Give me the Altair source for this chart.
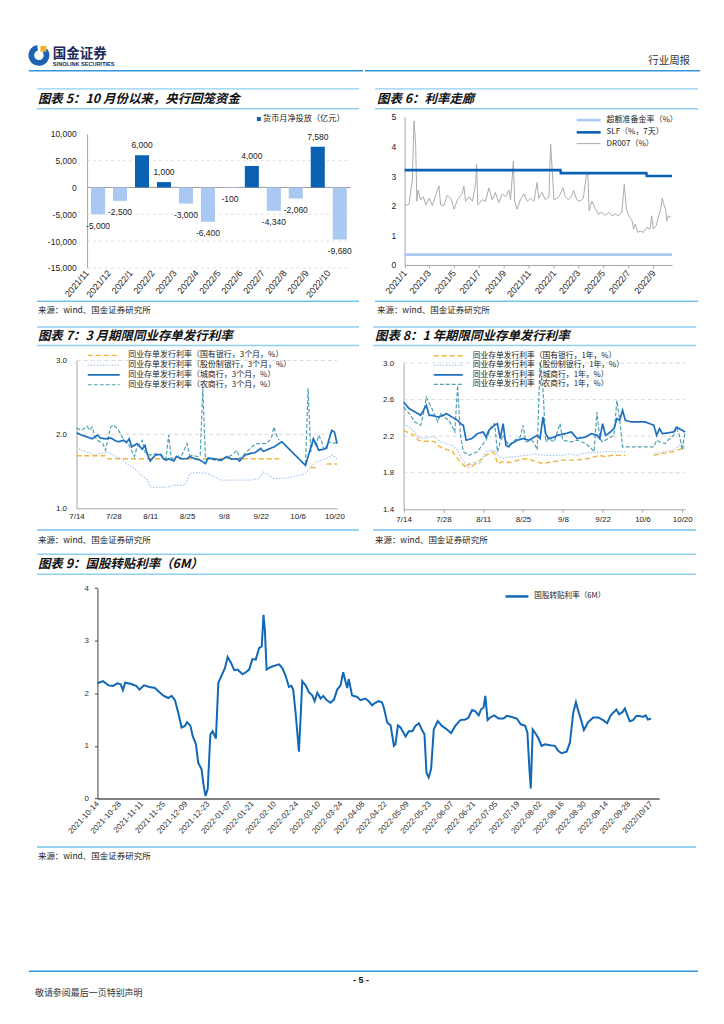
import altair as alt
import pandas as pd

LAT = "Liberation Sans, Noto Sans CJK SC"
CJK = "Noto Sans CJK SC, Liberation Sans"
TXT = "#222222"
HEAD_BLUE = "#3196db"
TITLE_BLUE = "#8fd0f4"
SRC_BLUE = "#74c3ee"
GRID = "#d9d9d9"
AXIS = "#a6a6a6"

# ---------------- texts ----------------
brand_cn = "国金证券"
brand_en = "SINOLINK SECURITIES"
report_type = "行业周报"
title5 = "图表 5：10 月份以来，央行回笼资金"
title6 = "图表 6：利率走廊"
title7 = "图表 7：3 月期限同业存单发行利率"
title8 = "图表 8：1 年期限同业存单发行利率"
title9 = "图表 9：国股转贴利率（6M）"
source_txt = "来源：wind、国金证券研究所"
page_no = "- 5 -"
disclaimer = "敬请参阅最后一页特别声明"

# ---------------- chart 5 data ----------------
c5_months = ["2021/11", "2021/12", "2022/1", "2022/2", "2022/3", "2022/4",
             "2022/5", "2022/6", "2022/7", "2022/8", "2022/9", "2022/10"]
c5_values = [-5000, -2500, 6000, 1000, -3000, -6400, -100, 4000, -4340, -2060, 7580, -9680]
c5_yticks = [10000, 5000, 0, -5000, -10000, -15000]
c5_grid = [5000, -5000, -10000, -15000]
c5_legend = "货币月净投放（亿元）"

# ---------------- chart 6 data ----------------
c6_names = ["超额准备金率（%）", "SLF（%，7天）", "DR007（%）"]
c6_excess = [("2021-01-01", 0.35), ("2022-10-17", 0.35)]
c6_slf = [("2021-01-01", 3.2), ("2022-01-17", 3.2), ("2022-01-18", 3.1),
          ("2022-08-15", 3.1), ("2022-08-16", 3.0), ("2022-10-17", 3.0)]
c6_dr007 = [
    ("2021-01-01", 2.00), ("2021-01-12", 2.05), ("2021-01-16", 2.50), ("2021-01-20", 2.84),
    ("2021-01-24", 4.86), ("2021-01-28", 4.08), ("2021-01-31", 2.15), ("2021-02-03", 2.52),
    ("2021-02-09", 2.20), ("2021-02-16", 2.30), ("2021-02-22", 2.03), ("2021-03-02", 2.25),
    ("2021-03-10", 2.00), ("2021-03-18", 2.35), ("2021-03-26", 2.67), ("2021-03-30", 2.03),
    ("2021-04-07", 2.00), ("2021-04-15", 2.35), ("2021-04-24", 2.25), ("2021-05-02", 1.88),
    ("2021-05-10", 2.20), ("2021-05-22", 2.40), ("2021-05-26", 2.67), ("2021-05-30", 2.15),
    ("2021-06-07", 2.30), ("2021-06-16", 2.15), ("2021-06-24", 2.78), ("2021-06-26", 3.40),
    ("2021-06-29", 2.03), ("2021-07-10", 2.20), ("2021-07-18", 2.15), ("2021-07-26", 2.60),
    ("2021-08-03", 2.20), ("2021-08-11", 2.45), ("2021-08-19", 2.10), ("2021-08-28", 2.40),
    ("2021-09-05", 2.30), ("2021-09-13", 2.52), ("2021-09-17", 2.20), ("2021-09-24", 3.51),
    ("2021-09-27", 2.15), ("2021-10-03", 1.88), ("2021-10-11", 2.20), ("2021-10-20", 2.40),
    ("2021-10-28", 2.15), ("2021-11-05", 2.25), ("2021-11-13", 2.15), ("2021-11-21", 2.78),
    ("2021-11-25", 2.25), ("2021-12-03", 2.45), ("2021-12-11", 2.20), ("2021-12-20", 2.30),
    ("2021-12-24", 4.08), ("2021-12-28", 3.18), ("2022-01-01", 2.20), ("2022-01-09", 2.25),
    ("2022-01-17", 2.40), ("2022-01-23", 2.60), ("2022-01-29", 2.30), ("2022-02-06", 2.20),
    ("2022-02-14", 2.35), ("2022-02-18", 2.52), ("2022-02-26", 2.20), ("2022-03-06", 2.15),
    ("2022-03-14", 2.25), ("2022-03-21", 3.00), ("2022-03-25", 3.10), ("2022-03-28", 1.83),
    ("2022-04-04", 2.15), ("2022-04-12", 1.90), ("2022-04-20", 1.72), ("2022-04-28", 1.78),
    ("2022-05-07", 1.66), ("2022-05-15", 1.78), ("2022-05-23", 1.66), ("2022-05-31", 1.72),
    ("2022-06-08", 1.66), ("2022-06-16", 1.78), ("2022-06-22", 2.72), ("2022-06-27", 1.90),
    ("2022-07-03", 1.66), ("2022-07-11", 1.49), ("2022-07-15", 1.21), ("2022-07-19", 1.38),
    ("2022-07-25", 1.10), ("2022-07-31", 1.15), ("2022-08-08", 1.10), ("2022-08-16", 1.27),
    ("2022-08-24", 1.21), ("2022-08-28", 1.66), ("2022-09-01", 1.21), ("2022-09-08", 1.32),
    ("2022-09-13", 1.60), ("2022-09-19", 1.88), ("2022-09-23", 2.25), ("2022-09-27", 2.03),
    ("2022-10-01", 1.88), ("2022-10-04", 1.49), ("2022-10-08", 1.66), ("2022-10-14", 1.60)]
c6_xticks = ["2021-01-01", "2021-03-01", "2021-05-01", "2021-07-01", "2021-09-01", "2021-11-01",
             "2022-01-01", "2022-03-01", "2022-05-01", "2022-07-01", "2022-09-01"]
c6_yticks = [0, 1, 2, 3, 4, 5]

# ---------------- chart 7 data (3M) ----------------
c7_names = ["同业存单发行利率（国有银行，3个月，%）", "同业存单发行利率（股份制银行，3个月，%）",
            "同业存单发行利率（城商行，3个月，%）", "同业存单发行利率（农商行，3个月，%）"]
c7_state = [("07-14", 1.71), ("07-25", 1.71), ("07-26", 1.67), ("09-29", 1.67),
            ("10-11", 1.55), ("10-13", 1.55), ("10-17", 1.60), ("10-21", 1.60)]
c7_state_breaks = ["10-11", "10-17"]
c7_joint = [("07-14", 1.83), ("07-16", 1.785), ("07-18", 1.76), ("07-21", 1.72), ("07-23", 1.74),
            ("07-26", 1.76), ("07-28", 1.72), ("07-31", 1.67), ("08-02", 1.605), ("08-05", 1.54),
            ("08-07", 1.47), ("08-10", 1.38), ("08-11", 1.29), ("08-14", 1.28), ("08-18", 1.29),
            ("08-20", 1.31), ("08-24", 1.31), ("08-25", 1.38), ("08-26", 1.47), ("08-29", 1.485),
            ("09-02", 1.47), ("09-04", 1.43), ("09-07", 1.38), ("09-11", 1.38), ("09-14", 1.38),
            ("09-18", 1.38), ("09-21", 1.40), ("09-23", 1.49), ("09-25", 1.45), ("09-27", 1.40),
            ("10-02", 1.41), ("10-07", 1.45), ("10-09", 1.47), ("10-11", 1.56), ("10-13", 1.63),
            ("10-15", 1.65), ("10-17", 1.67), ("10-19", 1.72), ("10-20", 1.70), ("10-21", 1.67)]
c7_city = [("07-14", 2.02), ("07-16", 1.99), ("07-18", 1.965), ("07-20", 1.94), ("07-22", 1.99),
           ("07-23", 1.95), ("07-25", 1.94), ("07-27", 1.95), ("07-29", 1.91), ("07-30", 1.90),
           ("08-01", 1.92), ("08-02", 1.89), ("08-03", 1.94), ("08-04", 1.83), ("08-06", 1.875),
           ("08-08", 1.80), ("08-09", 1.85), ("08-10", 1.72), ("08-11", 1.64), ("08-13", 1.72),
           ("08-15", 1.73), ("08-16", 1.67), ("08-17", 1.65), ("08-18", 1.67), ("08-20", 1.64),
           ("08-21", 1.70), ("08-23", 1.67), ("08-25", 1.67), ("08-26", 1.70), ("08-28", 1.67),
           ("08-30", 1.65), ("09-01", 1.605), ("09-02", 1.68), ("09-05", 1.665), ("09-07", 1.65),
           ("09-09", 1.70), ("09-11", 1.665), ("09-13", 1.67), ("09-14", 1.64), ("09-16", 1.72),
           ("09-18", 1.74), ("09-20", 1.755), ("09-22", 1.81), ("09-23", 1.77), ("09-25", 1.80),
           ("09-27", 1.83), ("09-30", 1.90), ("10-09", 1.58), ("10-10", 1.70), ("10-12", 1.94),
           ("10-13", 1.875), ("10-14", 1.785), ("10-16", 1.80), ("10-17", 1.81), ("10-18", 1.94),
           ("10-19", 2.055), ("10-20", 2.03), ("10-21", 1.875)]
c7_rural = [("07-14", 2.085), ("07-16", 2.055), ("07-18", 2.11), ("07-19", 2.055), ("07-20", 2.10),
            ("07-21", 1.965), ("07-22", 1.92), ("07-24", 1.875), ("07-25", 1.785), ("07-27", 2.10),
            ("07-28", 2.13), ("07-30", 2.055), ("08-01", 1.92), ("08-03", 1.85), ("08-05", 1.70),
            ("08-06", 1.83), ("08-08", 1.92), ("08-09", 1.76), ("08-11", 1.72), ("08-13", 1.74),
            ("08-15", 1.72), ("08-17", 1.67), ("08-18", 1.99), ("08-19", 1.67), ("08-21", 1.70),
            ("08-23", 1.72), ("08-25", 1.875), ("08-26", 1.72), ("08-29", 1.70), ("08-30", 1.72),
            ("08-31", 2.62), ("09-01", 1.67), ("09-03", 1.665), ("09-06", 1.64), ("09-08", 1.67),
            ("09-11", 1.72), ("09-13", 1.785), ("09-14", 1.67), ("09-16", 1.74), ("09-18", 1.81),
            ("09-20", 1.875), ("09-22", 1.875), ("09-24", 1.875), ("09-26", 1.94), ("09-27", 2.10),
            ("09-28", 1.99), ("09-29", 1.92), ("10-09", 1.60), ("10-10", 2.62), ("10-11", 1.76),
            ("10-12", 1.94), ("10-13", 1.83), ("10-14", 1.99), ("10-15", 1.92), ("10-16", 1.785),
            ("10-18", 1.90), ("10-19", 1.875), ("10-21", 1.89)]
c7_rural_breaks = ["10-09"]
c7_xticks = ["2022-07-14", "2022-07-28", "2022-08-11", "2022-08-25",
             "2022-09-08", "2022-09-22", "2022-10-06", "2022-10-20"]
c7_yticks = [1.0, 2.0, 3.0]
c7_grid = [2.0, 3.0]

# ---------------- chart 8 data (1Y) ----------------
c8_names = ["同业存单发行利率（国有银行，1年，%）", "同业存单发行利率（股份制银行，1年，%）",
            "同业存单发行利率（城商行，1年，%）", "同业存单发行利率（农商行，1年，%）"]
c8_state = [("07-14", 2.265), ("07-16", 2.23), ("07-18", 2.21), ("07-19", 2.16), ("07-21", 2.145),
            ("07-23", 2.145), ("07-25", 2.14), ("07-26", 2.10), ("07-28", 2.065), ("07-30", 2.047),
            ("07-31", 2.047), ("08-01", 1.99), ("08-03", 1.92), ("08-05", 1.854), ("08-06", 1.90),
            ("08-07", 1.865), ("08-09", 1.92), ("08-10", 1.938), ("08-12", 1.99), ("08-13", 2.01),
            ("08-14", 2.03), ("08-15", 2.01), ("08-16", 1.90), ("08-18", 1.92), ("08-20", 1.912),
            ("08-22", 1.927), ("08-25", 1.95), ("08-27", 1.95), ("08-29", 1.927), ("09-01", 1.90),
            ("09-03", 1.912), ("09-06", 1.927), ("09-08", 1.938), ("09-10", 1.938), ("09-13", 1.938),
            ("09-15", 1.95), ("09-17", 1.956), ("09-19", 1.974), ("09-21", 1.99), ("09-23", 1.974),
            ("09-25", 1.99), ("09-27", 1.99), ("09-30", 1.99),
            ("10-10", 1.99), ("10-13", 2.01), ("10-15", 2.02), ("10-17", 2.03), ("10-20", 2.065),
            ("10-21", 2.08)]
c8_state_breaks = ["10-10"]
c8_joint = [("07-14", 2.338), ("07-16", 2.30), ("07-18", 2.247), ("07-19", 2.19), ("07-21", 2.174),
            ("07-23", 2.19), ("07-25", 2.19), ("07-27", 2.138), ("07-29", 2.12), ("07-31", 2.10),
            ("08-02", 2.047), ("08-03", 1.974), ("08-05", 1.883), ("08-06", 1.847), ("08-08", 1.92),
            ("08-10", 1.90), ("08-11", 1.974), ("08-12", 2.03), ("08-15", 2.047), ("08-16", 1.99),
            ("08-18", 1.956), ("08-20", 1.974), ("08-22", 1.974), ("08-25", 1.99), ("08-27", 1.99),
            ("08-29", 2.01), ("09-01", 1.99), ("09-03", 1.99), ("09-06", 1.99), ("09-08", 1.99),
            ("09-10", 2.01), ("09-13", 1.99), ("09-15", 2.01), ("09-17", 2.018), ("09-19", 2.02),
            ("09-22", 2.03), ("09-24", 2.036), ("09-26", 2.03), ("09-30", 2.03),
            ("10-10", 2.01), ("10-13", 2.025), ("10-15", 2.04), ("10-17", 2.047), ("10-20", 2.12),
            ("10-21", 2.047)]
c8_joint_breaks = ["10-10"]
c8_city = [("07-14", 2.574), ("07-16", 2.50), ("07-18", 2.465), ("07-20", 2.428), ("07-22", 2.538),
           ("07-23", 2.428), ("07-24", 2.428), ("07-26", 2.41), ("07-28", 2.428), ("07-29", 2.447),
           ("07-31", 2.41), ("08-02", 2.374), ("08-03", 2.338), ("08-04", 2.32), ("08-05", 2.156),
           ("08-07", 2.174), ("08-09", 2.228), ("08-11", 2.247), ("08-12", 2.19), ("08-13", 2.265),
           ("08-15", 2.32), ("08-16", 2.338), ("08-17", 2.174), ("08-18", 2.338), ("08-19", 2.10),
           ("08-20", 2.083), ("08-21", 2.12), ("08-22", 2.138), ("08-23", 2.156), ("08-25", 2.174),
           ("08-27", 2.156), ("08-29", 2.19), ("08-30", 2.21), ("08-31", 2.174), ("09-01", 2.41),
           ("09-02", 2.228), ("09-03", 2.174), ("09-05", 2.19), ("09-06", 2.21), ("09-09", 2.228),
           ("09-11", 2.247), ("09-13", 2.174), ("09-16", 2.19), ("09-18", 2.228), ("09-20", 2.21),
           ("09-21", 2.174), ("09-22", 2.338), ("09-23", 2.21), ("09-24", 2.228), ("09-26", 2.283),
           ("09-27", 2.392), ("09-28", 2.374), ("09-29", 2.483), ("09-30", 2.374), ("10-02", 2.356),
           ("10-07", 2.356), ("10-10", 2.32), ("10-11", 2.21), ("10-12", 2.283), ("10-13", 2.228),
           ("10-15", 2.236), ("10-17", 2.247), ("10-18", 2.30), ("10-20", 2.265), ("10-21", 2.247)]
c8_rural = [("07-14", 2.519), ("07-16", 2.447), ("07-18", 2.356), ("07-20", 2.32), ("07-21", 2.447),
            ("07-22", 2.628), ("07-24", 2.50), ("07-26", 2.356), ("07-27", 2.447), ("07-29", 2.392),
            ("07-30", 2.374), ("08-01", 2.247), ("08-02", 2.756), ("08-03", 2.21), ("08-04", 2.03),
            ("08-06", 1.99), ("08-09", 2.03), ("08-11", 2.12), ("08-12", 2.156), ("08-14", 2.32),
            ("08-15", 2.338), ("08-16", 2.03), ("08-17", 2.138), ("08-18", 2.21), ("08-20", 2.10),
            ("08-22", 2.156), ("08-24", 2.19), ("08-25", 2.32), ("08-26", 2.138), ("08-28", 2.156),
            ("08-29", 2.12), ("08-30", 2.05), ("08-31", 3.01), ("09-01", 2.72), ("09-02", 2.138),
            ("09-03", 2.174), ("09-05", 2.138), ("09-07", 2.338), ("09-08", 2.156), ("09-11", 2.138),
            ("09-13", 2.156), ("09-16", 2.12), ("09-18", 2.065), ("09-19", 2.03), ("09-20", 2.465),
            ("09-21", 2.174), ("09-22", 2.138), ("09-24", 2.174), ("09-26", 2.21), ("09-27", 2.59),
            ("09-28", 2.374), ("09-29", 2.083), ("10-10", 2.083), ("10-11", 2.156), ("10-12", 2.138),
            ("10-14", 2.12), ("10-15", 2.156), ("10-17", 2.21), ("10-18", 2.30), ("10-19", 2.21),
            ("10-20", 2.047), ("10-21", 2.247)]
c8_yticks = [1.4, 1.8, 2.2, 2.6, 3.0]
c8_grid = [1.8, 2.2, 2.6, 3.0]

# ---------------- chart 9 data (trading-day index, value) ----------------
c9_name = "国股转贴利率（6M）"
c9_points = [
    (0, 2.19), (2.5, 2.23), (5, 2.15), (7, 2.14), (9, 2.19), (10.5, 2.17), (11.5, 2.06), (12.5, 2.20),
    (15, 2.18), (17.5, 2.14), (19, 2.07), (21, 2.15), (23.5, 2.12), (26, 2.10), (28, 2.02), (30, 1.95),
    (32, 1.91), (33.5, 1.95), (35, 1.87), (36.5, 1.63), (38, 1.35), (39.5, 1.38), (40.5, 1.45),
    (42, 1.38), (43, 1.19), (44.5, 1.03), (45.5, 0.68), (47, 0.56), (48, 0.24), (48.8, 0.05),
    (49.8, 0.18), (51, 1.22), (52, 1.28), (53.5, 1.14), (54.6, 2.20), (56, 2.33), (57.6, 2.48),
    (58.8, 2.69), (60.3, 2.58), (61.8, 2.44), (63.3, 2.45), (65.5, 2.36), (67, 2.40), (68.5, 2.45),
    (70, 2.65), (71.5, 2.64), (73, 2.86), (74.2, 2.89), (75, 3.49), (75.6, 3.21), (76.4, 2.45),
    (78.3, 2.50), (80.5, 2.53), (82, 2.55), (83.5, 2.48), (85, 2.33), (86.5, 2.12), (87.6, 2.14),
    (88.4, 2.07), (89.5, 1.63), (91, 0.89), (91.8, 1.57), (92.5, 2.23), (94, 2.15), (95.5, 2.02),
    (97, 1.96), (98.1, 1.85), (99.3, 2.01), (100.8, 1.90), (102, 1.95), (103.5, 1.87), (105.3, 1.82),
    (106.8, 1.88), (108.3, 2.07), (109.8, 2.15), (111, 2.40), (111.8, 2.26), (112.8, 2.10),
    (113.5, 2.27), (115, 1.96), (117.3, 1.93), (118.8, 1.87), (121, 1.90), (122.5, 1.85), (124, 1.77),
    (125.5, 1.82), (127, 1.85), (128.5, 1.83), (129.4, 1.72), (130.9, 1.44), (132.4, 1.39),
    (133.9, 1.00), (134.6, 1.03), (135.7, 1.39), (136.9, 1.35), (139.2, 1.18), (140.6, 1.28),
    (142.2, 1.28), (143.6, 1.38), (145.2, 1.43), (146.6, 1.30), (147.7, 1.22), (148.6, 0.49),
    (149.6, 0.40), (150.7, 0.56), (151.9, 1.31), (153.7, 1.47), (155.6, 1.38), (157.9, 1.31),
    (159.7, 1.24), (161.6, 1.38), (163.9, 1.49), (166.2, 1.50), (167.6, 1.54), (169.2, 1.68),
    (170.6, 1.66), (172.2, 1.58), (173.2, 1.69), (174.4, 1.73), (175.2, 1.95), (176.2, 1.49),
    (177.4, 1.54), (179.2, 1.58), (181.2, 1.52), (183.4, 1.52), (184.9, 1.57), (187.2, 1.55),
    (189.4, 1.52), (191.2, 1.41), (193.2, 1.38), (194.2, 1.25), (195.1, 0.56), (195.7, 0.19),
    (196.6, 1.31), (198.1, 1.22), (199.2, 1.14), (200.6, 1.00), (202.2, 1.03), (204.4, 1.01),
    (206.6, 1.00), (208.2, 0.90), (209.6, 0.86), (211.9, 0.89), (213.4, 1.06), (214.9, 1.63),
    (216.1, 1.83), (217.2, 1.66), (218.6, 1.47), (219.7, 1.30), (221.6, 1.45), (223.9, 1.54),
    (226.2, 1.54), (228.4, 1.49), (230.2, 1.43), (231.7, 1.57), (233.2, 1.64), (234.4, 1.69),
    (235.6, 1.60), (237.1, 1.64), (238.2, 1.71), (239.2, 1.60), (240.4, 1.47), (241.9, 1.49),
    (243.4, 1.57), (244.9, 1.57), (246.4, 1.55), (247.6, 1.58), (248.6, 1.50), (250, 1.52)]
c9_xlabels = ["2021-10-14", "2021-10-28", "2021-11-11", "2021-11-25", "2021-12-09", "2021-12-23",
              "2022-01-07", "2022-01-21", "2022-02-10", "2022-02-24", "2022-03-10", "2022-03-24",
              "2022-04-08", "2022-04-22", "2022-05-09", "2022-05-23", "2022-06-07", "2022-06-21",
              "2022-07-05", "2022-07-19", "2022-08-02", "2022-08-16", "2022-08-30", "2022-09-14",
              "2022-09-28", "2022/10/17"]
c9_xtick_idx = [0, 10, 20, 30, 40, 50, 60, 70, 80, 90, 100, 110, 120, 130, 140, 150, 160, 170,
                180, 190, 200, 210, 220, 230, 240, 250]
c9_yticks = [0, 1, 2, 3, 4]

# ---------------- layout (panel boxes) ----------------
W_L, W_R, W3 = 356, 352, 708
H1, H2, H3 = 310, 230, 455

ONE = alt.Data(values=[{"k": 1}])


def txt(x, y, s, size=8.0, weight="normal", style="normal", align="left", color=TXT, font=CJK):
    return alt.Chart(ONE).mark_text(
        align=align, baseline="middle", fontSize=size, fontWeight=weight,
        fontStyle=style, color=color, font=font
    ).encode(x=alt.value(x), y=alt.value(y), text=alt.value(s))


def hrule(x1, x2, y, color=TITLE_BLUE, width=1.5):
    return alt.Chart(ONE).mark_rule(color=color, strokeWidth=width).encode(
        x=alt.value(x1), x2=alt.value(x2), y=alt.value(y))


def D(s):
    y, m, d = (int(t) for t in s.split("-"))
    return alt.DateTime(year=y, month=m, date=d, utc=True)


def vrules(values, yfun, x1, x2, color=GRID, dash=(3, 3), width=0.8):
    kw = {"strokeDash": list(dash)} if dash else {}
    return alt.Chart(alt.Data(values=[{"v": v} for v in values])).mark_rule(
        color=color, strokeWidth=width, **kw
    ).encode(y=yfun("v:Q"), x=alt.value(x1), x2=alt.value(x2))


def line_legend(x, y, half, sym_off, lab_off, row_pad, size=8.0, **extra):
    return alt.Legend(orient="none", legendX=x, legendY=y, title=None,
                      symbolType="M-%s,0H%s" % (half, half), symbolSize=64,
                      symbolOffset=sym_off, labelOffset=lab_off, rowPadding=row_pad,
                      padding=0, labelFont=CJK, labelFontSize=size, labelColor=TXT,
                      labelLimit=500, **extra)


minus_fix = "replace(format(datum.value, ','), '\u2212', '-')"

# =============== Chart 5 ===============
L5, R5, T5, B5 = 79.3, 343.7, 124.7, 259.3
POS5, NEG5 = "#0b62b5", "#a9c8f2"
df5 = pd.DataFrame({"month": c5_months, "value": c5_values})
df5["series"] = c5_legend


def x5():
    return alt.X("month:N", sort=c5_months, title=None,
                 scale=alt.Scale(range=[L5, R5], paddingInner=0.36, paddingOuter=0.18),
                 axis=alt.Axis(labelAngle=-50, labelAlign="right", labelBaseline="middle",
                               domain=False, ticks=False, labelPadding=3, labelFontSize=9,
                               labelFont=LAT, labelColor=TXT, offset=B5 - H1, labelOffset=-11,
                               labelOverlap=False))


def y5(f):
    return alt.Y(f, title=None,
                 scale=alt.Scale(domain=[-15000, 10000], range=[B5, T5], nice=False, zero=False),
                 axis=alt.Axis(values=c5_yticks, labelExpr=minus_fix, grid=False, ticks=False,
                               domainColor=AXIS, labelPadding=11, labelFontSize=8.5,
                               labelFont=LAT, labelColor=TXT, offset=-L5, labelOverlap=False))


leg5 = alt.Legend(orient="none", legendX=247.5, legendY=105.8, title=None, symbolType="square",
                  symbolSize=16, labelFontSize=8.2, labelFont=CJK, labelColor=TXT,
                  labelOffset=0, padding=0, labelLimit=300)
bars5 = alt.Chart(df5).mark_bar().encode(
    x=x5(), y=y5("value:Q"),
    color=alt.condition(alt.datum.value < 0, alt.value(NEG5),
                        alt.Color("series:N", scale=alt.Scale(domain=[c5_legend], range=[POS5]),
                                  legend=leg5)))
lab5p = alt.Chart(df5).transform_filter("datum.value >= 0").transform_calculate(
    lab=minus_fix).mark_text(dy=-10, fontSize=8.5, font=LAT, color=TXT).encode(
    x=x5(), y=y5("value:Q"), text="lab:N")
lab5n = alt.Chart(df5).transform_filter("datum.value < 0").transform_calculate(
    lab=minus_fix).mark_text(dy=11.5, fontSize=8.5, font=LAT, color=TXT).encode(
    x=x5(), y=y5("value:Q"), text="lab:N")

logo_arc = alt.Chart(ONE).mark_arc(color="#1d63b4").encode(
    x=alt.value(31), y=alt.value(46), theta=alt.value(0.9), theta2=alt.value(6.1),
    radius=alt.value(10.5), radius2=alt.value(4.8))
logo_sq = alt.Chart(ONE).mark_square(color="#f0b323", size=34, opacity=1).encode(
    x=alt.value(35.5), y=alt.value(39.5))

c5 = alt.layer(
    vrules(c5_grid, y5, L5, R5),
    vrules([0], y5, L5, R5, color="#9a9a9a", dash=None, width=1),
    bars5, lab5p, lab5n,
    logo_arc, logo_sq,
    txt(45, 45, brand_cn, size=13.5, weight="bold", color="#1b2a5e"),
    txt(45, 55, brand_en, size=5.6, weight="bold", color="#1b2a5e", font=LAT),
    hrule(21, W_L, 61.5, color=HEAD_BLUE, width=1.6),
    hrule(29, 352, 79.7), hrule(29, 352, 99.7),
    txt(30, 90, title5, size=12.5, weight="bold", style="italic", color="#111111"),
    hrule(29, 352, 292.7, color=SRC_BLUE),
    txt(30, 301.5, source_txt, size=8.5),
).properties(width=W_L, height=H1)

# =============== Chart 6 ===============
L6, R6, T6, B6 = 39.7, 308, 107.7, 256.3
rows6 = []
for d, v in c6_dr007:
    rows6.append({"date": d, "value": v, "series": c6_names[2]})
for d, v in c6_excess:
    rows6.append({"date": d, "value": v, "series": c6_names[0]})
for d, v in c6_slf:
    rows6.append({"date": d, "value": v, "series": c6_names[1]})
df6 = pd.DataFrame(rows6)


def x6(f):
    return alt.X(f, title=None,
                 scale=alt.Scale(type="utc", domain=[D("2021-01-01"), D("2022-10-17")], range=[L6, R6]),
                 axis=alt.Axis(values=[D(s) for s in c6_xticks], format="%Y/%-m", labelAngle=-50,
                               labelAlign="right", labelBaseline="middle", labelFlush=False,
                               labelOverlap=False, domainColor=AXIS, tickColor=AXIS, tickSize=3,
                               labelPadding=3, labelFontSize=9, labelFont=LAT, labelColor=TXT,
                               offset=B6 - H1, grid=False))


def y6(f):
    return alt.Y(f, title=None,
                 scale=alt.Scale(domain=[0, 5], range=[B6, T6], nice=False, zero=False),
                 axis=alt.Axis(values=c6_yticks, format="d", grid=False, ticks=False,
                               domainColor=AXIS, labelPadding=9, labelFontSize=8.5,
                               labelFont=LAT, labelColor=TXT, offset=-L6, labelOverlap=False))


leg6 = line_legend(210.8, 105.5, 3, 8, 12.5, 1.3)
line6 = alt.Chart(df6).mark_line().encode(
    x=x6("date:T"), y=y6("value:Q"),
    color=alt.Color("series:N", scale=alt.Scale(domain=c6_names, range=["#a8caf3", "#0b62b5", "#ababab"]),
                    legend=leg6),
    strokeWidth=alt.StrokeWidth("series:N", scale=alt.Scale(type="ordinal", domain=c6_names,
                                                            range=[2.6, 2.6, 1.0]), legend=leg6))

c6 = alt.layer(
    line6,
    txt(326, 52, report_type, size=10.5, align="right", color="#333333"),
    hrule(0, 336, 61.5, color=HEAD_BLUE, width=1.6),
    hrule(10, 334, 79.7), hrule(10, 334, 99.7),
    txt(12, 90, title6, size=12.5, weight="bold", style="italic", color="#111111"),
    hrule(10, 334, 292.7, color=SRC_BLUE),
    txt(12, 301.5, source_txt, size=8.5),
).properties(width=W_R, height=H1)


# =============== Chart 7 & 8 helpers ===============
def series_frame(items):
    rows = []
    for name, pts, breaks in items:
        for d, v in pts:
            seg = sum(1 for b in breaks if d >= b)
            rows.append({"date": "2022-" + d, "value": v, "series": name, "seg": name + str(seg)})
    return pd.DataFrame(rows)


CD_COLORS = ["#f3b43a", "#a9c6ef", "#1d6fc0", "#4ea2b4"]
CD_DASH = [[5, 3], [1.5, 1.5], [1, 0], [4, 2]]
CD_WIDTH = [1.4, 1.2, 1.7, 1.2]

# =============== Chart 7 ===============
L7, R7, T7, B7 = 68.7, 330, 42, 190.3
df7 = series_frame([(c7_names[0], c7_state, c7_state_breaks), (c7_names[1], c7_joint, []),
                    (c7_names[3], c7_rural, c7_rural_breaks), (c7_names[2], c7_city, [])])


def x7(f):
    return alt.X(f, title=None,
                 scale=alt.Scale(type="utc", domain=[D("2022-07-14"), D("2022-10-21")], range=[L7, R7]),
                 axis=alt.Axis(values=[D(s) for s in c7_xticks], format="%-m/%-d", labelAngle=0,
                               labelAlign="center", labelFlush=False, labelOverlap=False,
                               domainColor=AXIS, ticks=False, labelPadding=4, labelFontSize=8,
                               labelFont=LAT, labelColor=TXT, offset=B7 - H2, grid=False))


def y7(f):
    return alt.Y(f, title=None,
                 scale=alt.Scale(domain=[1.0, 3.0], range=[B7, T7], nice=False, zero=False),
                 axis=alt.Axis(values=c7_yticks, format=".1f", grid=False, ticks=False,
                               domainColor=AXIS, labelPadding=10, labelFontSize=8,
                               labelFont=LAT, labelColor=TXT, offset=-L7, labelOverlap=False))


leg7 = line_legend(80, 32, 4, 11, 19.5, 0.8, size=8.0)
line7 = alt.Chart(df7).mark_line().encode(
    x=x7("date:T"), y=y7("value:Q"),
    color=alt.Color("series:N", scale=alt.Scale(domain=c7_names, range=CD_COLORS), legend=leg7),
    strokeDash=alt.StrokeDash("series:N", scale=alt.Scale(domain=c7_names, range=CD_DASH), legend=leg7),
    strokeWidth=alt.StrokeWidth("series:N", scale=alt.Scale(type="ordinal", domain=c7_names,
                                                            range=CD_WIDTH), legend=leg7),
    detail="seg:N")

c7 = alt.layer(
    vrules(c7_grid, y7, L7, R7, dash=(4, 3), width=1),
    line7,
    hrule(29, 352, 8.5), hrule(29, 352, 27),
    txt(30, 17.5, title7, size=12.5, weight="bold", style="italic", color="#111111"),
    hrule(29, 352, 212, color=SRC_BLUE),
    txt(30, 222, source_txt, size=8.5),
).properties(width=W_L, height=H2)

# =============== Chart 8 ===============
L8, R8, T8, B8 = 40.7, 323, 44.7, 191.3
df8 = series_frame([(c8_names[0], c8_state, c8_state_breaks), (c8_names[1], c8_joint, c8_joint_breaks),
                    (c8_names[3], c8_rural, []), (c8_names[2], c8_city, [])])


def x8(f):
    return alt.X(f, title=None,
                 scale=alt.Scale(type="utc", domain=[D("2022-07-14"), D("2022-10-21")], range=[L8, R8]),
                 axis=alt.Axis(values=[D(s) for s in c7_xticks], format="%-m/%-d", labelAngle=0,
                               labelAlign="center", labelFlush=False, labelOverlap=False,
                               domainColor=AXIS, tickColor=AXIS, tickSize=3, labelPadding=3,
                               labelFontSize=8, labelFont=LAT, labelColor=TXT, offset=B8 - H2,
                               grid=False))


def y8(f):
    return alt.Y(f, title=None,
                 scale=alt.Scale(domain=[1.4, 3.0], range=[B8, T8], nice=False, zero=False),
                 axis=alt.Axis(values=c8_yticks, format=".1f", grid=False, ticks=False,
                               domainColor=AXIS, labelPadding=10, labelFontSize=8,
                               labelFont=LAT, labelColor=TXT, offset=-L8, labelOverlap=False))


leg8 = line_legend(70, 32.3, 3.625, 10.5, 19.5, 0.6, size=7.8)
line8 = alt.Chart(df8).mark_line().encode(
    x=x8("date:T"), y=y8("value:Q"),
    color=alt.Color("series:N", scale=alt.Scale(domain=c8_names, range=CD_COLORS), legend=leg8),
    strokeDash=alt.StrokeDash("series:N", scale=alt.Scale(domain=c8_names, range=CD_DASH), legend=leg8),
    strokeWidth=alt.StrokeWidth("series:N", scale=alt.Scale(type="ordinal", domain=c8_names,
                                                            range=CD_WIDTH), legend=leg8),
    detail="seg:N")

c8 = alt.layer(
    vrules(c8_grid, y8, L8, R8, dash=(4, 3), width=1),
    line8,
    hrule(10, 334, 8.5), hrule(10, 334, 27),
    txt(12, 17.5, title8, size=12.5, weight="bold", style="italic", color="#111111"),
    hrule(10, 334, 212, color=SRC_BLUE),
    txt(12, 222, source_txt, size=8.5),
).properties(width=W_R, height=H2)

# =============== Chart 9 ===============
L9, R9, T9, B9 = 89.7, 653, 40.3, 251.3
df9 = pd.DataFrame(c9_points, columns=["idx", "value"])
df9["series"] = c9_name
c9_label_expr = "[" + ",".join("'%s'" % s for s in c9_xlabels) + "][round(datum.value / 10)]"

x9 = alt.X("idx:Q", title=None,
           scale=alt.Scale(domain=[0, 253.7], range=[L9, R9], nice=False, zero=False),
           axis=alt.Axis(values=c9_xtick_idx, labelExpr=c9_label_expr, labelAngle=-47,
                         labelAlign="right", labelBaseline="middle", labelFlush=False,
                         labelOverlap=False, domainColor="#7f7f7f", domainWidth=2, ticks=False,
                         labelPadding=4, labelFontSize=8, labelFont=LAT, labelColor="#333333",
                         offset=B9 - H3, grid=False))
y9 = alt.Y("value:Q", title=None,
           scale=alt.Scale(domain=[0, 4], range=[B9, T9], nice=False, zero=False),
           axis=alt.Axis(values=c9_yticks, format="d", grid=False, tickSize=3, tickColor="#404040",
                         domainColor="#404040", labelPadding=6, labelFontSize=8, labelFont=LAT,
                         labelColor="#333333", offset=-L9, labelOverlap=False))
leg9 = line_legend(496.85, 43.2, 2.875, 8, 12, 0, size=7.6, symbolStrokeWidth=2.5)
line9 = alt.Chart(df9).mark_line(strokeWidth=2).encode(
    x=x9, y=y9,
    color=alt.Color("series:N", scale=alt.Scale(domain=[c9_name], range=["#1168b6"]), legend=leg9))

c9 = alt.layer(
    line9,
    hrule(29, 690, 6.5), hrule(29, 690, 26.5),
    txt(30, 16, title9, size=12.5, weight="bold", style="italic", color="#111111"),
    hrule(29, 690, 300, color=SRC_BLUE),
    txt(30, 309, source_txt, size=8.5),
    hrule(21, 692, 424.5, color=HEAD_BLUE, width=1.6),
    txt(354, 433, page_no, size=9, weight="bold", align="center", color="#111111", font=LAT),
    txt(27, 446, disclaimer, size=9, color="#333333"),
).properties(width=W3, height=H3)

IND = dict(color="independent", strokeDash="independent", strokeWidth="independent")
row1 = alt.hconcat(c5, c6, spacing=0).resolve_scale(**IND).resolve_legend(**IND)
row2 = alt.hconcat(c7, c8, spacing=0).resolve_scale(**IND).resolve_legend(**IND)
chart = alt.vconcat(row1, row2, c9, spacing=0).resolve_scale(**IND).resolve_legend(**IND).properties(
    padding=0, background="white").configure_view(stroke="transparent", strokeWidth=0)

chart.save("out.html", embed_options={"renderer": "svg", "actions": False})
